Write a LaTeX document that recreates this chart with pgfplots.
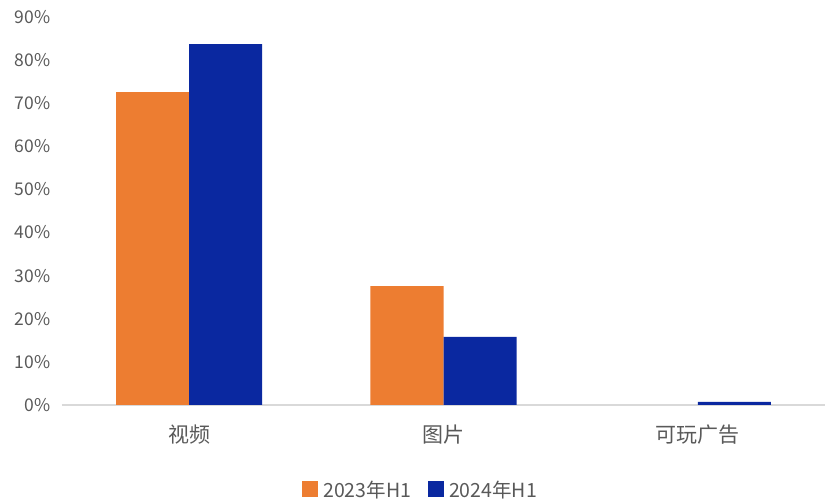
\documentclass[border=0pt]{standalone}
\usepackage{fontspec}
\setmainfont{Noto Sans CJK SC}
\usepackage{pgfplots}
\pgfplotsset{compat=1.18}
\definecolor{c23}{HTML}{ED7D31}
\definecolor{c24}{HTML}{0A28A0}
\definecolor{txt}{HTML}{595959}
\definecolor{axl}{HTML}{D9D9D9}

\begin{document}
\begin{tikzpicture}
\useasboundingbox (-62pt,-97pt) rectangle (763pt,405pt);
\begin{axis}[
  scale only axis,
  width=763pt, height=388pt,
  ybar=0pt, bar width=73pt,
  xmin=-0.5, xmax=2.5,
  ymin=0, ymax=90,
  xtick={0,1,2},
  xticklabels={视频,图片,可玩广告},
  ytick={0,10,...,90},
  yticklabel={\pgfmathprintnumber{\tick}\%},
  /pgf/number format/assume math mode=true,
  axis x line*=bottom,
  axis y line*=left,
  x axis line style={axl, line width=1.2pt, -},
  y axis line style={draw=none},
  major tick length=0pt,
  xticklabel style={font=\fontsize{21}{24}\selectfont, text=txt, yshift=-16pt},
  yticklabel style={font=\fontsize{17.5}{20}\selectfont, text=txt, xshift=-8pt},
  enlarge x limits=false,
  legend style={
    at={(0.472,-0.219)}, anchor=center,
    draw=none, legend columns=2,
    font=\fontsize{19.5}{22}\selectfont, text=txt,
    /tikz/every even column/.append style={column sep=12pt},
    nodes={inner xsep=5pt},
  },
  legend image code/.code={\fill[#1] (0pt,-7pt) rectangle (16pt,9pt);},
]
\addplot[fill=c23, draw=none] coordinates {(0,72.6) (1,27.6)};
\addplot[fill=c24, draw=none] coordinates {(0,83.7) (1,15.8) (2,0.7)};
\legend{2023年H1,2024年H1}
\end{axis}
\end{tikzpicture}
\end{document}
